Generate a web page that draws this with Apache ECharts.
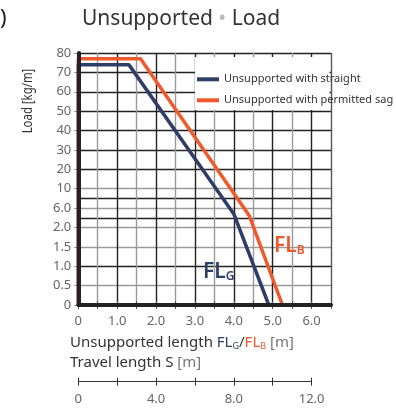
<!DOCTYPE html>
<html><head><meta charset="utf-8">
<script src="https://cdn.jsdelivr.net/npm/echarts@6/dist/echarts.min.js"></script>
<style>html,body{margin:0;padding:0;background:#fff}#c{width:396px;height:410px}</style>
</head><body><div id="c"></div>
<script>
// ---- data ----
const yTickValues = [0, 0.5, 1.0, 1.5, 2.0, 6.0, 10, 20, 30, 40, 50, 60, 70, 80];
const yTickLabels = ['0', '0.5', '1.0', '1.5', '2.0', '6.0', '10', '20', '30', '40', '50', '60', '70', '80'];
const xTickLabels = ['0', '1.0', '2.0', '3.0', '4.0', '5.0', '6.0'];
const travelTickLabels = ['0', '4.0', '8.0', '12.0'];
const seriesNames = ['Unsupported with straight', 'Unsupported with permitted sag'];
const straightX = [0, 0, 1.3, 4.0, 4.9];
const straightY = [0, 74, 74, 4.8, 0];
const sagX = [0, 0, 1.6, 4.4, 5.25];
const sagY = [0, 77, 77, 4.4, 0];

// ---- piecewise y scale (axis is laid out by tick index) ----
function toIdx(v) {
  for (let i = 0; i < yTickValues.length - 1; i++) {
    const a = yTickValues[i], b = yTickValues[i + 1];
    if (v >= a && v <= b) return i + (v - a) / (b - a);
  }
  return yTickValues.length - 1;
}
function pts(xs, ys) { return xs.map((x, i) => [x, toIdx(ys[i])]); }

const NAVY = '#2f3e68', ORANGE = '#ee5a2b', DARK = '#222', GRAY = '#9a9a9a';
const FONT = 'Noto Sans';

const hColors = [DARK, GRAY, DARK, GRAY, GRAY, GRAY, GRAY, DARK, DARK, DARK, DARK, DARK, DARK, DARK];
const hExtra = [];
for (let k = 0; k <= 26; k++) hExtra.push((k === 9 || k === 11) ? DARK : 'rgba(0,0,0,0)');
const vColors = [];
for (let k = 0; k <= 13; k++) vColors.push(k % 2 === 0 ? DARK : GRAY);
vColors[13] = '#555';

const G0 = { left: 78.3, top: 53, width: 252.7, height: 252 };
const G1 = { left: 78.3, top: 377.7, width: 233.3, height: 4 };

const chart = echarts.init(document.getElementById('c'), null, { renderer: 'canvas' });
chart.setOption({
  animation: false,
  textStyle: { fontFamily: FONT },
  grid: [G0, G1],
  xAxis: [
    { gridIndex: 0, type: 'value', position: 'bottom', min: 0, max: 6.5, interval: 0.5,
      axisLine: { show: false },
      axisTick: { show: true, length: 4, lineStyle: { color: '#555' } },
      axisLabel: { fontSize: 13, color: '#666', margin: 10, fontFamily: FONT,
        formatter: v => (Math.abs(v - Math.round(v)) < 1e-6 ? (xTickLabels[Math.round(v)] || '') : '') },
      splitLine: { show: true, showMinLine: true, showMaxLine: true, lineStyle: { color: vColors, width: 1.4 } } },
    { gridIndex: 0, type: 'value', position: 'top', min: 0, max: 6.5, interval: 0.5,
      axisLine: { show: false }, axisLabel: { show: false }, splitLine: { show: false },
      axisTick: { show: true, length: 4, lineStyle: { color: '#555' } } },
    { gridIndex: 0, type: 'value', position: 'bottom', min: 0, max: 6.5, z: 5,
      axisLine: { show: true, lineStyle: { color: DARK, width: 4 } },
      axisTick: { show: false }, axisLabel: { show: false }, splitLine: { show: false } },
    { gridIndex: 1, type: 'value', position: 'bottom', min: 0, max: 12, interval: 2,
      axisLine: { show: true, lineStyle: { color: '#333', width: 1 } },
      axisTick: { show: true, length: 4, lineStyle: { color: '#333' } },
      axisLabel: { fontSize: 13, color: '#666', margin: 11, fontFamily: FONT,
        formatter: v => (v % 4 === 0 ? travelTickLabels[v / 4] : '') },
      splitLine: { show: false } },
    { gridIndex: 1, type: 'value', position: 'top', min: 0, max: 12, interval: 2,
      axisLine: { show: false }, axisLabel: { show: false }, splitLine: { show: false },
      axisTick: { show: true, inside: true, length: 4, lineStyle: { color: '#333' } } }
  ],
  yAxis: [
    { gridIndex: 0, type: 'value', position: 'left', min: 0, max: 13, interval: 1,
      axisLine: { show: false },
      axisTick: { show: true, length: 4, lineStyle: { color: '#888' } },
      axisLabel: { fontSize: 13, color: '#666', margin: 7, fontFamily: FONT,
        formatter: v => yTickLabels[Math.round(v)] },
      splitLine: { show: true, showMinLine: true, showMaxLine: true, lineStyle: { color: hColors, width: 1.4 } } },
    { gridIndex: 0, type: 'value', position: 'right', min: 0, max: 13, interval: 0.5,
      axisLine: { show: false }, axisTick: { show: false }, axisLabel: { show: false },
      splitLine: { show: true, showMinLine: true, showMaxLine: true, lineStyle: { color: hExtra, width: 1.4 } } },
    { gridIndex: 0, type: 'value', position: 'left', min: 0, max: 13, z: 5,
      axisLine: { show: true, lineStyle: { color: DARK, width: 4 } },
      axisTick: { show: false }, axisLabel: { show: false }, splitLine: { show: false } },
    { gridIndex: 1, type: 'value', show: false, min: 0, max: 1 }
  ],
  legend: {
    orient: 'vertical', left: 197, top: 72.3, padding: 0, itemGap: 7,
    icon: 'rect', itemWidth: 22, itemHeight: 4,
    textStyle: { fontSize: 11, color: '#333', lineHeight: 14, fontFamily: FONT },
    data: seriesNames
  },
  series: [
    { name: seriesNames[0], type: 'line', xAxisIndex: 0, yAxisIndex: 0, color: NAVY,
      showSymbol: false, symbol: 'none', lineStyle: { color: NAVY, width: 3.5 }, data: pts(straightX, straightY) },
    { name: seriesNames[1], type: 'line', xAxisIndex: 0, yAxisIndex: 0, color: ORANGE,
      showSymbol: false, symbol: 'none', lineStyle: { color: ORANGE, width: 3.5 }, data: pts(sagX, sagY) }
  ],
  graphic: [
    { type: 'rect', z: 1, shape: { x: 195, y: 57, width: 134.5, height: 53 }, style: { fill: '#fff' } },
    { type: 'text', z: 10, x: 0, y: 19, style: { text: ')', fontSize: 22, fontFamily: FONT, fill: '#222', verticalAlign: 'middle' } },
    { type: 'text', z: 10, x: 82, y: 19, style: {
        text: '{a|Unsupported} {b|•} {a|Load}', fontSize: 21, fontFamily: FONT, verticalAlign: 'middle',
        rich: { a: { fontSize: 21, fontFamily: FONT, fill: '#333' }, b: { fontSize: 21, fontFamily: FONT, fill: '#bbb' } } } },
    { type: 'text', z: 10, x: 28, y: 101, rotation: Math.PI / 2, scaleX: 0.76, style: {
        text: 'Load [kg/m]', fontSize: 15, fontFamily: FONT, fill: '#333', align: 'center', verticalAlign: 'middle' } },
    { type: 'text', z: 10, x: 70, y: 343, style: {
        text: '{t|Unsupported length }{n|FL}{ns|G}{t|/}{o|FL}{os|B}{u| [m]}', verticalAlign: 'middle', fontSize: 15, fontFamily: FONT,
        rich: {
          t: { fontSize: 15, fontFamily: FONT, fill: '#333' },
          n: { fontSize: 15, fontFamily: FONT, fill: NAVY },
          ns: { fontSize: 9, fontFamily: FONT, fill: NAVY, verticalAlign: 'bottom' },
          o: { fontSize: 15, fontFamily: FONT, fill: ORANGE },
          os: { fontSize: 9, fontFamily: FONT, fill: ORANGE, verticalAlign: 'bottom' },
          u: { fontSize: 15, fontFamily: FONT, fill: '#777' } } } },
    { type: 'text', z: 10, x: 70, y: 363, style: {
        text: '{t|Travel length S}{u| [m]}', verticalAlign: 'middle', fontSize: 15, fontFamily: FONT,
        rich: { t: { fontSize: 15, fontFamily: FONT, fill: '#333' }, u: { fontSize: 15, fontFamily: FONT, fill: '#777' } } } },
    { type: 'text', z: 10, x: 203, y: 272, style: {
        text: '{a|FL}{b|G}', verticalAlign: 'middle', fontSize: 21, fontFamily: FONT,
        rich: { a: { fontSize: 21, fontWeight: 600, fontFamily: FONT, fill: NAVY },
                b: { fontSize: 12, fontWeight: 600, fontFamily: FONT, fill: NAVY, verticalAlign: 'bottom' } } } },
    { type: 'text', z: 10, x: 274, y: 246, style: {
        text: '{a|FL}{b|B}', verticalAlign: 'middle', fontSize: 21, fontFamily: FONT,
        rich: { a: { fontSize: 21, fontWeight: 600, fontFamily: FONT, fill: ORANGE },
                b: { fontSize: 12, fontWeight: 600, fontFamily: FONT, fill: ORANGE, verticalAlign: 'bottom' } } } }
  ]
});
</script></body></html>
